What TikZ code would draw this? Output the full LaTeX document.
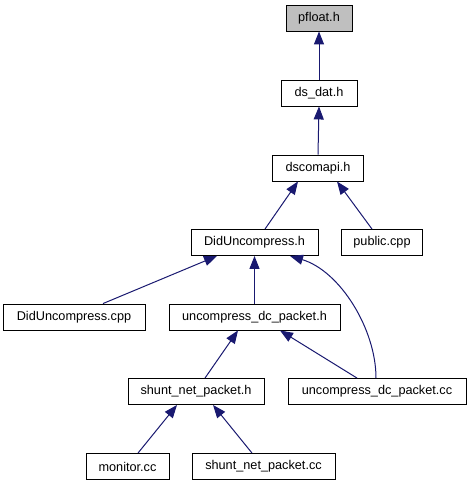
\documentclass[tikz,border=0pt]{standalone}
\usepackage{fontspec}
\setmainfont{Liberation Sans}
\usepackage{tikz}
\usetikzlibrary{arrows.meta}
\definecolor{cedge}{HTML}{191970}
\definecolor{cself}{HTML}{BFBFBF}
\tikzset{
  file/.style={draw=black, line width=0.9pt, fill=white, minimum height=26pt, inner sep=0pt, font=\fontsize{12.7}{14}\selectfont},
  self/.style={file, fill=cself},
  inc/.style={-{Triangle[length=13pt, width=10pt]}, draw=cedge, line width=1pt},
}
\begin{document}
\begin{tikzpicture}[x=1pt, y=-1pt]
\useasboundingbox (0,0) rectangle (472,485);
% top chain
\node[self, minimum width=66pt] (pfl) at (319,18) {pfloat.h};
\node[file, minimum width=76pt] (dsd) at (319,93) {ds\_dat.h};
\node[file, minimum width=91pt] (dsc) at (318,168) {dscomapi.h};
\draw[inc] (dsd.north) -- (pfl.south);
\draw[inc] (dsc.north) -- (dsd.south);
% second row
\node[file, minimum width=127pt] (duh) at (254.5,242.5) {DidUncompress.h};
\node[file, minimum width=81pt] (pub) at (382,242.5) {public.cpp};
\draw[inc] ([xshift=10.5pt]duh.north) -- ([xshift=-20pt]dsc.south);
\draw[inc] ([xshift=-10pt]pub.north) -- ([xshift=19pt]dsc.south);
% third row
\node[file, minimum width=142pt] (duc) at (74,317) {DidUncompress.cpp};
\node[file, minimum width=171pt] (udh) at (254.5,317) {uncompress\_dc\_packet.h};
\draw[inc] ([xshift=29pt]duc.north) -- ([xshift=-37.5pt]duh.south);
\draw[inc] (udh.north) -- (duh.south);
% fourth row
\node[file, minimum width=136pt] (snh) at (196,391.5) {shunt\_net\_packet.h};
\node[file, minimum width=178pt] (udc) at (377,391.5) {uncompress\_dc\_packet.cc};
\draw[inc] ([xshift=9pt]snh.north) -- ([xshift=-16.5pt]udh.south);
\draw[inc] ([xshift=-20pt]udc.north) -- ([xshift=25.5pt]udh.south);
\draw[inc] ([xshift=-1pt]udc.north) .. controls +(0,-49) and +(50,15) .. ([xshift=35.5pt]duh.south);
% bottom row
\node[file, minimum width=83pt] (mon) at (127.5,466.5) {monitor.cc};
\node[file, minimum width=143pt] (snc) at (263.5,466.5) {shunt\_net\_packet.cc};
\draw[inc] ([xshift=10.5pt]mon.north) -- ([xshift=-19pt]snh.south);
\draw[inc] ([xshift=-11.5pt]snc.north) -- ([xshift=17pt]snh.south);
\end{tikzpicture}
\end{document}
